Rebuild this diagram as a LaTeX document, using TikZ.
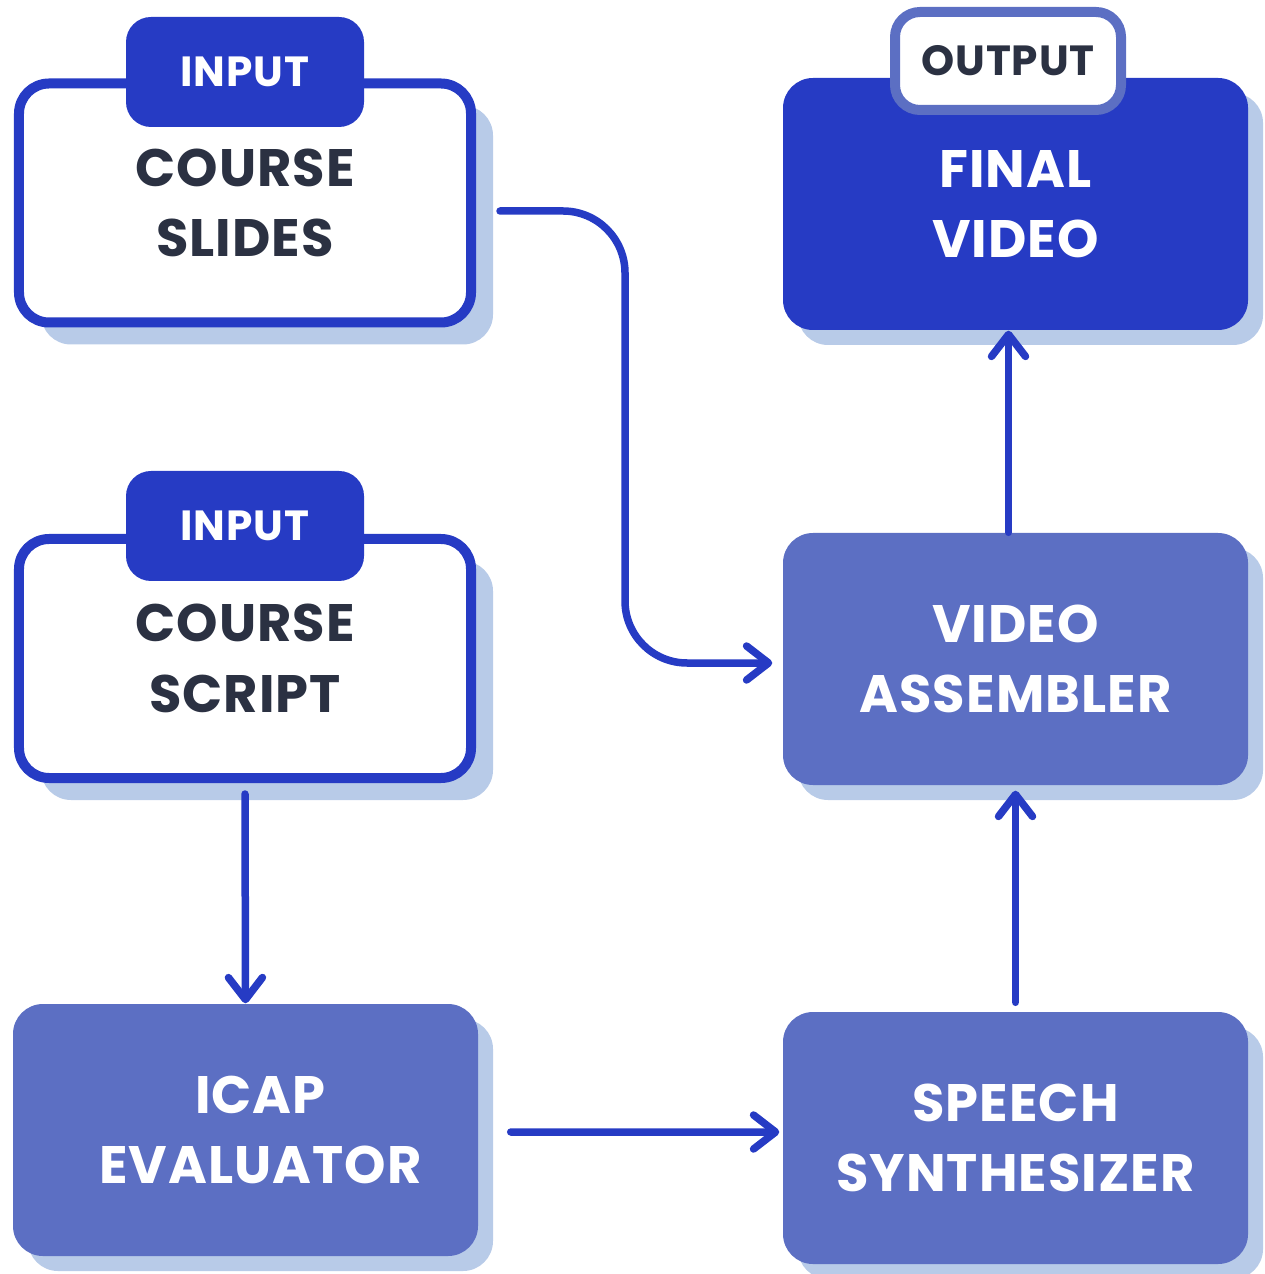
\documentclass[tikz,border=0pt]{standalone}
\usepackage{fontspec}
\setmainfont{Poppins}[LetterSpace=2]
\usepackage{xcolor}
\usepackage{tikz}
\usetikzlibrary{arrows.meta,positioning,shadows}
\definecolor{deepblue}{RGB}{38,59,196}
\definecolor{midblue}{RGB}{92,111,195}
\definecolor{paleblue}{RGB}{184,203,232}
\definecolor{inkgray}{RGB}{43,49,66}

\begin{document}
\begin{tikzpicture}[
    font=\bfseries\fontsize{15}{20}\selectfont,
    srcbox/.style={draw=deepblue,line width=1mm,fill=white,rounded corners=3mm,
      minimum width=4.52cm,minimum height=2.39cm,align=center,text=inkgray,
      drop shadow={shadow xshift=2.2mm,shadow yshift=-2.2mm,fill=paleblue,opacity=1}},
    stagebox/.style={fill=midblue,rounded corners=3mm,
      minimum width=4.65cm,minimum height=2.52cm,align=center,text=white,
      drop shadow={shadow xshift=1.5mm,shadow yshift=-1.5mm,fill=paleblue,opacity=1}},
    tagin/.style={fill=deepblue,text=white,rounded corners=2.5mm,
      minimum width=2.38cm,minimum height=1.10cm,font=\bfseries\fontsize{12}{14}\selectfont},
    tagout/.style={draw=midblue,line width=1mm,fill=white,text=inkgray,rounded corners=2.5mm,
      minimum width=2.26cm,minimum height=0.98cm,font=\bfseries\fontsize{12}{14}\selectfont},
    flow/.style={draw=deepblue,line width=0.75mm,line cap=round,
      -{Straight Barb[length=2.2mm,width=3.4mm,round]}}
  ]
  \useasboundingbox (0,0) rectangle (12.64,-12.74);

  % inputs on the left
  \node[srcbox] (slides) at (2.45,-2.03) {COURSE\\SLIDES};
  \node[tagin] (tagslides) at (2.45,-0.72) {INPUT};
  \node[srcbox] (script) at (2.45,-6.585) {COURSE\\SCRIPT};
  \node[tagin] (tagscript) at (2.45,-5.26) {INPUT};

  % processing stages
  \node[stagebox] (icap) at (2.455,-11.30) {\hspace*{3mm}ICAP\\\hspace*{3mm}EVALUATOR};
  \node[stagebox] (speech) at (10.155,-11.38) {SPEECH\\SYNTHESIZER};
  \node[stagebox] (assembler) at (10.155,-6.59) {VIDEO\\ASSEMBLER};

  % result
  \node[stagebox,fill=deepblue] (final) at (10.155,-2.04) {FINAL\\VIDEO};
  \node[tagout] (tagfinal) at (10.08,-0.61) {OUTPUT};

  % connectors
  \coordinate (bend) at (6.25,-4.3);
  \draw[flow,rounded corners=6.2mm] ([xshift=2.4mm,yshift=-0.8mm]slides.east) -| (bend)
    |- ([xshift=-1mm,yshift=-0.4mm]assembler.west);
  \draw[flow] ([yshift=-1.1mm]script.south) -- (icap.north);
  \draw[flow] ([xshift=3.2mm,yshift=-0.2mm]icap.east) -- ([xshift=-0.3mm,yshift=0.6mm]speech.west);
  \draw[flow] ([yshift=0.9mm]speech.north) -- ([yshift=-0.5mm]assembler.south);
  \draw[flow] ([xshift=-0.7mm]assembler.north) -- ([xshift=-0.7mm]final.south);
\end{tikzpicture}
\end{document}
